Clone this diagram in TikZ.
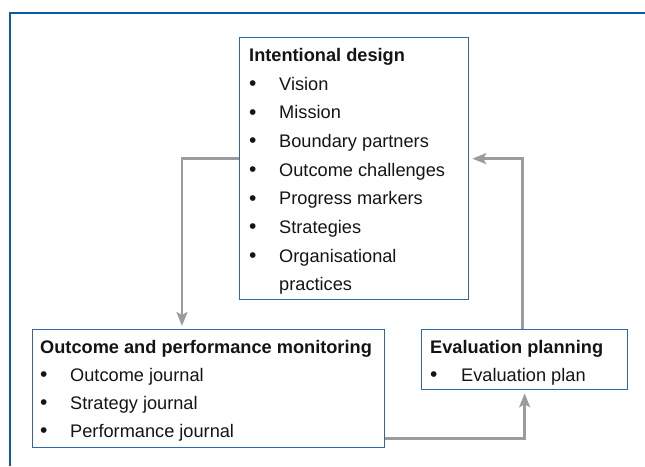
\documentclass[tikz,border=0pt]{standalone}
\usepackage{fontspec}
\setmainfont{Liberation Sans}
\usetikzlibrary{arrows.meta}
\definecolor{framecol}{RGB}{10,90,170}
\definecolor{boxcol}{RGB}{45,105,178}
\definecolor{arrcol}{RGB}{155,156,160}
\definecolor{txtcol}{RGB}{20,20,20}
\begin{document}
\begin{tikzpicture}[x=1pt,y=-1pt,
  box/.style={draw=boxcol,line width=1.3pt,inner sep=0pt,anchor=north west},
  ttl/.style={anchor=base west,inner sep=0pt,text=txtcol,font=\fontsize{18.2}{20}\selectfont\bfseries},
  itm/.style={anchor=base west,inner sep=0pt,text=txtcol,font=\fontsize{18.2}{20}\selectfont},
  bul/.style={anchor=base west,inner sep=0pt,text=txtcol,font=\fontsize{21}{20}\selectfont},
  conn/.style={draw=arrcol,line width=2.4pt,-{Stealth[length=14pt,width=11pt,inset=3pt]},shorten >=3pt}]
\useasboundingbox (0,0) rectangle (645,466);
\draw[framecol,line width=2pt] (9.5,466) -- (9.5,12.5) -- (645,12.5);
% boxes
\node[box,minimum width=229pt,minimum height=262pt] (design) at (239,37) {};
\node[box,minimum width=352pt,minimum height=118pt] (mon) at (32,329) {};
\node[box,minimum width=206pt,minimum height=60pt] (eval) at (421,329) {};
% texts of design
\node[ttl] (dtitle) at (249,61) {Intentional design};
\foreach \y/\t [count=\i] in {90/Vision,118.5/Mission,147/Boundary partners,176/Outcome challenges,204.5/Progress markers,233/Strategies,262/Organisational}{
  \node[bul] (db\i) at (249,\y+0.5) {•};
  \node[itm] (dt\i) at (279,\y) {\t};
}
\node[itm] (dt8) at (279,290.5) {practices};
% texts of monitoring
\node[ttl] (mtitle) at (40,353) {Outcome and performance monitoring};
\foreach \y/\t [count=\i] in {381/Outcome journal,409/Strategy journal,437/Performance journal}{
  \node[bul] (mb\i) at (40,\y+0.5) {•};
  \node[itm] (mt\i) at (70,\y) {\t};
}
% texts of evaluation
\node[ttl] (etitle) at (430,353) {Evaluation planning};
\node[bul] (eb1) at (430,381.5) {•};
\node[itm] (et1) at (461,381) {Evaluation plan};
% connectors
\draw[conn] ([yshift=10pt]design.west) -| ([xshift=150pt]mon.north west);
\draw[conn] ([xshift=-2pt]eval.north) |- ([yshift=10pt]design.east);
\draw[conn] ([yshift=-50pt]mon.east) -| (eval.south);
\end{tikzpicture}
\end{document}
